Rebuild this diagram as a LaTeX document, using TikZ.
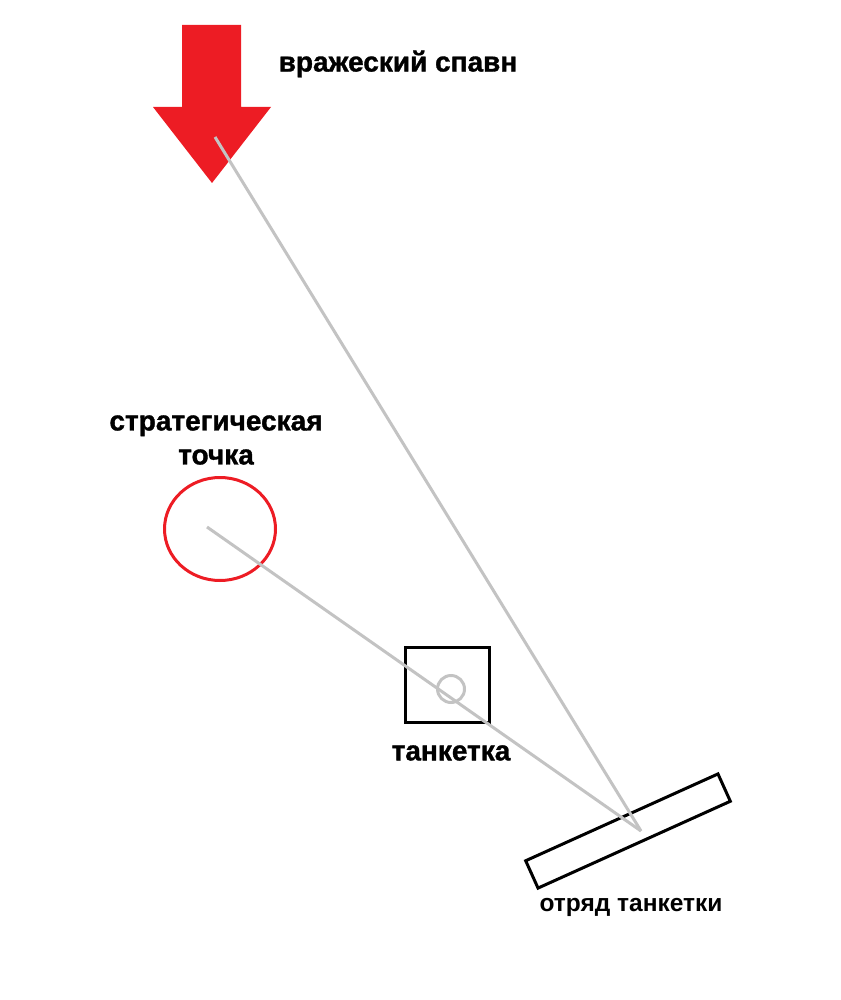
\documentclass[tikz,border=0pt]{standalone}
\usepackage{fontspec}
\setmainfont{Liberation Sans}
\newfontfamily\heavyfont[BoldFont={Liberation Sans Bold}, BoldFeatures={FakeBold=1.2}]{Liberation Sans}
\usetikzlibrary{shapes.geometric}
\definecolor{spawnred}{RGB}{237,28,36}
\definecolor{sightgray}{RGB}{195,195,195}
\tikzset{
  lbl/.style={font=\heavyfont\fontsize{28}{34}\selectfont\bfseries, inner sep=0pt, align=center},
  lightlbl/.style={font=\fontsize{24.5}{29}\selectfont\bfseries, inner sep=0pt, align=center},
  sight/.style={draw=sightgray, line width=3pt},
  blackbox/.style={draw=black, line width=3pt, inner sep=0pt}
}
\begin{document}
\begin{tikzpicture}[x=1pt,y=-1pt]
\useasboundingbox (0,0) rectangle (840,1000);
% enemy spawn arrow
\fill[spawnred] (182,25) -- (241,25) -- (241,107) -- (271,107) -- (212,183) -- (153,107) -- (182,107) -- cycle;
\coordinate (spawn) at (215,137);
\node[lbl] (spawnlbl) at (398,64) {вражеский спавн};
% strategic point
\node[ellipse, draw=spawnred, line width=3pt, minimum width=111pt, minimum height=103pt, inner sep=0pt] (strat) at (220,529) {};
\node[lbl] (stratlbl) at (216,440) {стратегическая\\точка};
% tankette
\node[blackbox, minimum width=84pt, minimum height=75pt] (tank) at (447.5,685) {};
\node[draw=sightgray, line width=3pt, circle, minimum size=27pt, inner sep=0pt] (tankc) at (451,689) {};
\node[lbl] (tanklbl) at (451,753) {танкетка};
% squad
\node[blackbox, minimum width=211pt, minimum height=30pt, rotate=24.3] (squad) at (628,831) {};
\coordinate (squadpt) at (641,831);
\node[lightlbl] (squadlbl) at (631,907) {отряд танкетки};
% sight lines
\draw[sight] (spawn) -- (squadpt);
\draw[sight] (207,527) coordinate (stratc) -- (squadpt);
\end{tikzpicture}
\end{document}
